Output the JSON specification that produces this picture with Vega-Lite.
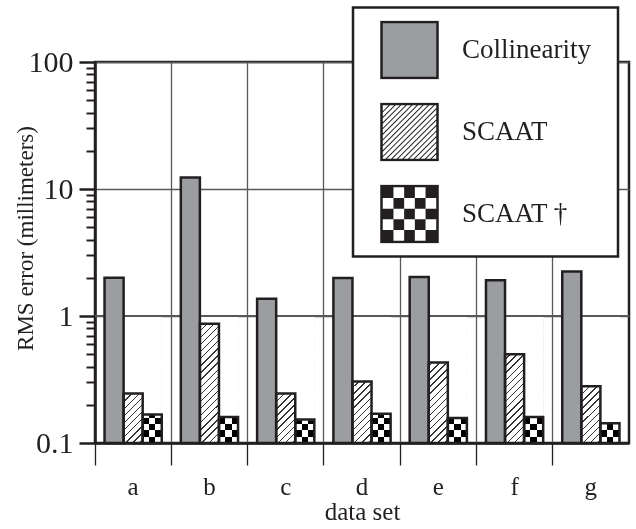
{
  "$schema": "https://vega.github.io/schema/vega-lite/v6.json",
  "width": 534,
  "height": 381,
  "autosize": "none",
  "padding": {"left": 95, "top": 62, "right": 7, "bottom": 86},
  "background": "white",
  "config": {
    "view": {"stroke": "#231f20", "strokeWidth": 2.5},
    "font": "Liberation Serif",
    "axisX": {
      "bandPosition": 0, "labelAngle": 0,
      "grid": true, "gridColor": "#58595b", "gridWidth": 1.3,
      "ticks": true, "tickSize": 22, "tickWidth": 1.3, "tickColor": "#231f20",
      "domain": true, "domainColor": "#231f20", "domainWidth": 2.5,
      "labelFont": "Liberation Serif", "labelFontSize": 25, "labelColor": "#231f20", "labelPadding": 9,
      "titleFont": "Liberation Serif", "titleFontSize": 25, "titleFontWeight": "normal", "titleColor": "#231f20", "titlePadding": 0
    },
    "legend": {
      "orient": "none", "legendX": 258, "legendY": -54.5,
      "titleOrient": "right", "titleFontSize": 1, "titlePadding": 14,
      "padding": 13, "symbolSize": 3136, "symbolStrokeWidth": 2.5, "symbolOpacity": 1,
      "symbolOffset": 14, "labelOffset": 23, "rowPadding": 23, "clipHeight": 59,
      "labelFont": "Liberation Serif", "labelFontSize": 27, "labelColor": "#231f20", "labelLimit": 400,
      "fillColor": "#ffffff", "strokeColor": "#231f20", "strokeWidth": 2.5
    }
  },
  "data": {
    "values": [
      {"set": "a", "series": "Collinearity", "value": 2.0},
      {"set": "a", "series": "SCAAT", "value": 0.245},
      {"set": "a", "series": "SCAAT †", "value": 0.168},
      {"set": "b", "series": "Collinearity", "value": 12.3},
      {"set": "b", "series": "SCAAT", "value": 0.87},
      {"set": "b", "series": "SCAAT †", "value": 0.16},
      {"set": "c", "series": "Collinearity", "value": 1.37},
      {"set": "c", "series": "SCAAT", "value": 0.245},
      {"set": "c", "series": "SCAAT †", "value": 0.153},
      {"set": "d", "series": "Collinearity", "value": 1.99},
      {"set": "d", "series": "SCAAT", "value": 0.305},
      {"set": "d", "series": "SCAAT †", "value": 0.17},
      {"set": "e", "series": "Collinearity", "value": 2.03},
      {"set": "e", "series": "SCAAT", "value": 0.43},
      {"set": "e", "series": "SCAAT †", "value": 0.157},
      {"set": "f", "series": "Collinearity", "value": 1.91},
      {"set": "f", "series": "SCAAT", "value": 0.5},
      {"set": "f", "series": "SCAAT †", "value": 0.16},
      {"set": "g", "series": "Collinearity", "value": 2.24},
      {"set": "g", "series": "SCAAT", "value": 0.28},
      {"set": "g", "series": "SCAAT †", "value": 0.143}
    ]
  },
  "layer": [
    {
      "transform": [{"filter": "datum.series === 'SCAAT'"}],
      "mark": {
        "type": "bar",
        "fill": {
          "gradient": "linear", "x1": 0, "y1": 0, "x2": 0.1725, "y2": 1.15,
          "stops": [
            {"offset": 0, "color": "#333333"}, {"offset": 0.0095, "color": "#333333"}, {"offset": 0.0095, "color": "#ffffff"}, {"offset": 0.0476, "color": "#ffffff"},
            {"offset": 0.0476, "color": "#333333"}, {"offset": 0.0571, "color": "#333333"}, {"offset": 0.0571, "color": "#ffffff"}, {"offset": 0.0952, "color": "#ffffff"},
            {"offset": 0.0952, "color": "#333333"}, {"offset": 0.1047, "color": "#333333"}, {"offset": 0.1047, "color": "#ffffff"}, {"offset": 0.1429, "color": "#ffffff"},
            {"offset": 0.1429, "color": "#333333"}, {"offset": 0.1524, "color": "#333333"}, {"offset": 0.1524, "color": "#ffffff"}, {"offset": 0.1905, "color": "#ffffff"},
            {"offset": 0.1905, "color": "#333333"}, {"offset": 0.2000, "color": "#333333"}, {"offset": 0.2000, "color": "#ffffff"}, {"offset": 0.2381, "color": "#ffffff"},
            {"offset": 0.2381, "color": "#333333"}, {"offset": 0.2476, "color": "#333333"}, {"offset": 0.2476, "color": "#ffffff"}, {"offset": 0.2857, "color": "#ffffff"},
            {"offset": 0.2857, "color": "#333333"}, {"offset": 0.2952, "color": "#333333"}, {"offset": 0.2952, "color": "#ffffff"}, {"offset": 0.3333, "color": "#ffffff"},
            {"offset": 0.3333, "color": "#333333"}, {"offset": 0.3428, "color": "#333333"}, {"offset": 0.3428, "color": "#ffffff"}, {"offset": 0.3810, "color": "#ffffff"},
            {"offset": 0.3810, "color": "#333333"}, {"offset": 0.3905, "color": "#333333"}, {"offset": 0.3905, "color": "#ffffff"}, {"offset": 0.4286, "color": "#ffffff"},
            {"offset": 0.4286, "color": "#333333"}, {"offset": 0.4381, "color": "#333333"}, {"offset": 0.4381, "color": "#ffffff"}, {"offset": 0.4762, "color": "#ffffff"},
            {"offset": 0.4762, "color": "#333333"}, {"offset": 0.4857, "color": "#333333"}, {"offset": 0.4857, "color": "#ffffff"}, {"offset": 0.5238, "color": "#ffffff"},
            {"offset": 0.5238, "color": "#333333"}, {"offset": 0.5333, "color": "#333333"}, {"offset": 0.5333, "color": "#ffffff"}, {"offset": 0.5714, "color": "#ffffff"},
            {"offset": 0.5714, "color": "#333333"}, {"offset": 0.5809, "color": "#333333"}, {"offset": 0.5809, "color": "#ffffff"}, {"offset": 0.6190, "color": "#ffffff"},
            {"offset": 0.6190, "color": "#333333"}, {"offset": 0.6285, "color": "#333333"}, {"offset": 0.6285, "color": "#ffffff"}, {"offset": 0.6667, "color": "#ffffff"},
            {"offset": 0.6667, "color": "#333333"}, {"offset": 0.6762, "color": "#333333"}, {"offset": 0.6762, "color": "#ffffff"}, {"offset": 0.7143, "color": "#ffffff"},
            {"offset": 0.7143, "color": "#333333"}, {"offset": 0.7238, "color": "#333333"}, {"offset": 0.7238, "color": "#ffffff"}, {"offset": 0.7619, "color": "#ffffff"},
            {"offset": 0.7619, "color": "#333333"}, {"offset": 0.7714, "color": "#333333"}, {"offset": 0.7714, "color": "#ffffff"}, {"offset": 0.8095, "color": "#ffffff"},
            {"offset": 0.8095, "color": "#333333"}, {"offset": 0.8190, "color": "#333333"}, {"offset": 0.8190, "color": "#ffffff"}, {"offset": 0.8571, "color": "#ffffff"},
            {"offset": 0.8571, "color": "#333333"}, {"offset": 0.8666, "color": "#333333"}, {"offset": 0.8666, "color": "#ffffff"}, {"offset": 0.9048, "color": "#ffffff"},
            {"offset": 0.9048, "color": "#333333"}, {"offset": 0.9143, "color": "#333333"}, {"offset": 0.9143, "color": "#ffffff"}, {"offset": 0.9524, "color": "#ffffff"},
            {"offset": 0.9524, "color": "#333333"}, {"offset": 0.9619, "color": "#333333"}, {"offset": 0.9619, "color": "#ffffff"}, {"offset": 1, "color": "#ffffff"}
          ]
        }
      },
      "encoding": {
        "x": {"field": "set", "type": "nominal", "scale": {"paddingInner": 0, "paddingOuter": 0}, "axis": {"title": "data set"}},
        "xOffset": {"field": "series", "type": "nominal", "scale": {"domain": ["Collinearity", "SCAAT", "SCAAT †"], "paddingInner": 0, "paddingOuter": 0.5}},
        "y": {
          "datum": 1, "type": "quantitative",
          "scale": {"type": "log", "domain": [0.1, 100], "nice": false},
          "axis": {
            "orient": "left",
            "values": [0.2, 0.3, 0.4, 0.5, 0.6, 0.7, 0.8, 0.9, 2, 3, 4, 5, 6, 7, 8, 9, 20, 30, 40, 50, 60, 70, 80, 90],
            "labels": false, "grid": false, "domain": false, "ticks": true,
            "tickSize": 9, "tickWidth": 2, "tickColor": "#231f20", "title": null
          }
        },
        "y2": {"datum": 0.1}
      }
    },
    {
      "transform": [{"filter": "datum.series === 'SCAAT †'"}],
      "mark": {
        "type": "bar",
        "fill": {
          "gradient": "linear", "x1": 0, "y1": 0, "x2": 1, "y2": 0,
          "stops": [
            {"offset": 0, "color": "#000000"}, {"offset": 0.3333, "color": "#000000"},
            {"offset": 0.3333, "color": "#ffffff"}, {"offset": 0.6667, "color": "#ffffff"},
            {"offset": 0.6667, "color": "#000000"}, {"offset": 1, "color": "#000000"}
          ]
        }
      },
      "encoding": {
        "x": {"field": "set", "type": "nominal", "scale": {"paddingInner": 0, "paddingOuter": 0}, "axis": {"title": "data set"}},
        "xOffset": {"field": "series", "type": "nominal", "scale": {"domain": ["Collinearity", "SCAAT", "SCAAT †"], "paddingInner": 0, "paddingOuter": 0.5}},
        "y": {"datum": 1, "type": "quantitative", "scale": {"type": "log", "domain": [0.1, 100], "nice": false}, "axis": null},
        "y2": {"datum": 0.1}
      }
    },
    {
      "transform": [{"filter": "datum.series === 'SCAAT †'"}],
      "mark": {
        "type": "bar",
        "blend": "difference",
        "fill": {
          "gradient": "linear", "x1": 0, "y1": 1, "x2": 0, "y2": 0,
          "stops": [
            {"offset": 0, "color": "#ffffff"}, {"offset": 0.05, "color": "#ffffff"}, {"offset": 0.05, "color": "#000000"}, {"offset": 0.1, "color": "#000000"},
            {"offset": 0.1, "color": "#ffffff"}, {"offset": 0.15, "color": "#ffffff"}, {"offset": 0.15, "color": "#000000"}, {"offset": 0.2, "color": "#000000"},
            {"offset": 0.2, "color": "#ffffff"}, {"offset": 0.25, "color": "#ffffff"}, {"offset": 0.25, "color": "#000000"}, {"offset": 0.3, "color": "#000000"},
            {"offset": 0.3, "color": "#ffffff"}, {"offset": 0.35, "color": "#ffffff"}, {"offset": 0.35, "color": "#000000"}, {"offset": 0.4, "color": "#000000"},
            {"offset": 0.4, "color": "#ffffff"}, {"offset": 0.45, "color": "#ffffff"}, {"offset": 0.45, "color": "#000000"}, {"offset": 0.5, "color": "#000000"},
            {"offset": 0.5, "color": "#ffffff"}, {"offset": 0.55, "color": "#ffffff"}, {"offset": 0.55, "color": "#000000"}, {"offset": 0.6, "color": "#000000"},
            {"offset": 0.6, "color": "#ffffff"}, {"offset": 0.65, "color": "#ffffff"}, {"offset": 0.65, "color": "#000000"}, {"offset": 0.7, "color": "#000000"},
            {"offset": 0.7, "color": "#ffffff"}, {"offset": 0.75, "color": "#ffffff"}, {"offset": 0.75, "color": "#000000"}, {"offset": 0.8, "color": "#000000"},
            {"offset": 0.8, "color": "#ffffff"}, {"offset": 0.85, "color": "#ffffff"}, {"offset": 0.85, "color": "#000000"}, {"offset": 0.9, "color": "#000000"},
            {"offset": 0.9, "color": "#ffffff"}, {"offset": 0.95, "color": "#ffffff"}, {"offset": 0.95, "color": "#000000"}, {"offset": 1, "color": "#000000"}
          ]
        }
      },
      "encoding": {
        "x": {"field": "set", "type": "nominal", "scale": {"paddingInner": 0, "paddingOuter": 0}, "axis": {"title": "data set"}},
        "xOffset": {"field": "series", "type": "nominal", "scale": {"domain": ["Collinearity", "SCAAT", "SCAAT †"], "paddingInner": 0, "paddingOuter": 0.5}},
        "y": {"datum": 1, "type": "quantitative", "scale": {"type": "log", "domain": [0.1, 100], "nice": false}, "axis": null},
        "y2": {"datum": 0.1}
      }
    },
    {
      "transform": [{"filter": "datum.series !== 'Collinearity'"}],
      "mark": {"type": "bar", "fill": "#ffffff", "stroke": "#ffffff", "strokeWidth": 1.2},
      "encoding": {
        "x": {"field": "set", "type": "nominal", "scale": {"paddingInner": 0, "paddingOuter": 0}, "axis": {"title": "data set"}},
        "xOffset": {"field": "series", "type": "nominal", "scale": {"domain": ["Collinearity", "SCAAT", "SCAAT †"], "paddingInner": 0, "paddingOuter": 0.5}},
        "y": {"field": "value", "type": "quantitative", "scale": {"type": "log", "domain": [0.1, 100], "nice": false}, "axis": null},
        "y2": {"datum": 1}
      }
    },
    {
      "mark": {"type": "rule", "color": "#58595b", "strokeWidth": 1.3},
      "encoding": {
        "y": {"datum": 1, "type": "quantitative", "scale": {"type": "log", "domain": [0.1, 100], "nice": false}, "axis": null}
      }
    },
    {
      "transform": [{"filter": "datum.series === 'Collinearity'"}],
      "mark": {"type": "bar", "fill": "#9c9da1", "stroke": "#231f20", "strokeWidth": 2.5},
      "encoding": {
        "x": {"field": "set", "type": "nominal", "scale": {"paddingInner": 0, "paddingOuter": 0}, "axis": {"title": "data set"}},
        "xOffset": {"field": "series", "type": "nominal", "scale": {"domain": ["Collinearity", "SCAAT", "SCAAT †"], "paddingInner": 0, "paddingOuter": 0.5}},
        "y": {
          "field": "value", "type": "quantitative",
          "scale": {"type": "log", "domain": [0.1, 100], "nice": false},
          "axis": {
            "orient": "left",
            "values": [0.1, 1, 10, 100], "format": "~g",
            "title": "RMS error (millimeters)",
            "grid": true, "gridColor": "#58595b", "gridWidth": 1.3,
            "ticks": true, "tickSize": 16, "tickWidth": 2.5, "tickColor": "#231f20",
            "domain": true, "domainColor": "#231f20", "domainWidth": 2.5,
            "labelFont": "Liberation Serif", "labelFontSize": 30, "labelColor": "#231f20", "labelPadding": 6,
            "titleFont": "Liberation Serif", "titleFontSize": 23, "titleFontWeight": "normal", "titleColor": "#231f20",
            "titleX": -58, "titleY": 176
          }
        },
        "y2": {"datum": 0.1}
      }
    },
    {
      "transform": [{"filter": "datum.series !== 'Collinearity'"}],
      "mark": {"type": "bar", "fill": "transparent", "stroke": "#231f20", "strokeWidth": 2.5},
      "encoding": {
        "x": {"field": "set", "type": "nominal", "scale": {"paddingInner": 0, "paddingOuter": 0}, "axis": {"title": "data set"}},
        "xOffset": {"field": "series", "type": "nominal", "scale": {"domain": ["Collinearity", "SCAAT", "SCAAT †"], "paddingInner": 0, "paddingOuter": 0.5}},
        "y": {"field": "value", "type": "quantitative", "scale": {"type": "log", "domain": [0.1, 100], "nice": false}, "axis": null},
        "y2": {"datum": 0.1}
      }
    },
    {
      "mark": {"type": "point", "filled": true, "opacity": 0, "strokeWidth": 2.5},
      "encoding": {
        "x": {"field": "set", "type": "nominal", "scale": {"paddingInner": 0, "paddingOuter": 0}, "axis": {"title": "data set"}},
        "xOffset": {"field": "series", "type": "nominal", "scale": {"domain": ["Collinearity", "SCAAT", "SCAAT †"], "paddingInner": 0, "paddingOuter": 0.5}},
        "y": {"field": "value", "type": "quantitative", "scale": {"type": "log", "domain": [0.1, 100], "nice": false}, "axis": null},
        "fill": {
          "field": "series", "type": "nominal",
          "scale": {"domain": ["Collinearity", "SCAAT", "SCAAT †"], "range": ["#9c9da1", "#231f20", "#231f20"]},
          "legend": {"title": "\u00a0"}
        },
        "stroke": {
          "field": "series", "type": "nominal",
          "scale": {"domain": ["Collinearity", "SCAAT", "SCAAT †"], "range": ["#231f20", "transparent", "transparent"]},
          "legend": {"title": "\u00a0"}
        },
        "shape": {
          "field": "series", "type": "nominal",
          "scale": {
            "domain": ["Collinearity", "SCAAT", "SCAAT †"],
            "range": [
              "square",
              "M-1.045 -1.045H1.045V1.045H-1.045Z M-0.955 -0.955V0.955H0.955V-0.955Z M-0.955 -0.745L-0.745 -0.955L-0.695 -0.955L-0.955 -0.695Z M-0.955 -0.545L-0.545 -0.955L-0.495 -0.955L-0.955 -0.495Z M-0.955 -0.345L-0.345 -0.955L-0.295 -0.955L-0.955 -0.295Z M-0.955 -0.145L-0.145 -0.955L-0.095 -0.955L-0.955 -0.095Z M-0.955 0.055L0.055 -0.955L0.105 -0.955L-0.955 0.105Z M-0.955 0.255L0.255 -0.955L0.305 -0.955L-0.955 0.305Z M-0.955 0.455L0.455 -0.955L0.505 -0.955L-0.955 0.505Z M-0.955 0.655L0.655 -0.955L0.705 -0.955L-0.955 0.705Z M-0.955 0.855L0.855 -0.955L0.905 -0.955L-0.955 0.905Z M-0.855 0.955L0.955 -0.855L0.955 -0.805L-0.805 0.955Z M-0.655 0.955L0.955 -0.655L0.955 -0.605L-0.605 0.955Z M-0.455 0.955L0.955 -0.455L0.955 -0.405L-0.405 0.955Z M-0.255 0.955L0.955 -0.255L0.955 -0.205L-0.205 0.955Z M-0.055 0.955L0.955 -0.055L0.955 -0.005L-0.005 0.955Z M0.145 0.955L0.955 0.145L0.955 0.195L0.195 0.955Z M0.345 0.955L0.955 0.345L0.955 0.395L0.395 0.955Z M0.545 0.955L0.955 0.545L0.955 0.595L0.595 0.955Z M0.745 0.955L0.955 0.745L0.955 0.795L0.795 0.955Z",
              "M-1.045 -1.045H1.045V1.045H-1.045Z M-0.955 -0.955V0.955H0.955V-0.955Z M-0.955 -0.955H-0.573V-0.573H-0.955Z M-0.191 -0.955H0.191V-0.573H-0.191Z M0.573 -0.955H0.955V-0.573H0.573Z M-0.573 -0.573H-0.191V-0.191H-0.573Z M0.191 -0.573H0.573V-0.191H0.191Z M-0.955 -0.191H-0.573V0.191H-0.955Z M-0.191 -0.191H0.191V0.191H-0.191Z M0.573 -0.191H0.955V0.191H0.573Z M-0.573 0.191H-0.191V0.573H-0.573Z M0.191 0.191H0.573V0.573H0.191Z M-0.955 0.573H-0.573V0.955H-0.955Z M-0.191 0.573H0.191V0.955H-0.191Z M0.573 0.573H0.955V0.955H0.573Z"
            ]
          },
          "legend": {"title": "\u00a0"}
        }
      }
    }
  ],
  "resolve": {"axis": {"y": "independent"}}
}
